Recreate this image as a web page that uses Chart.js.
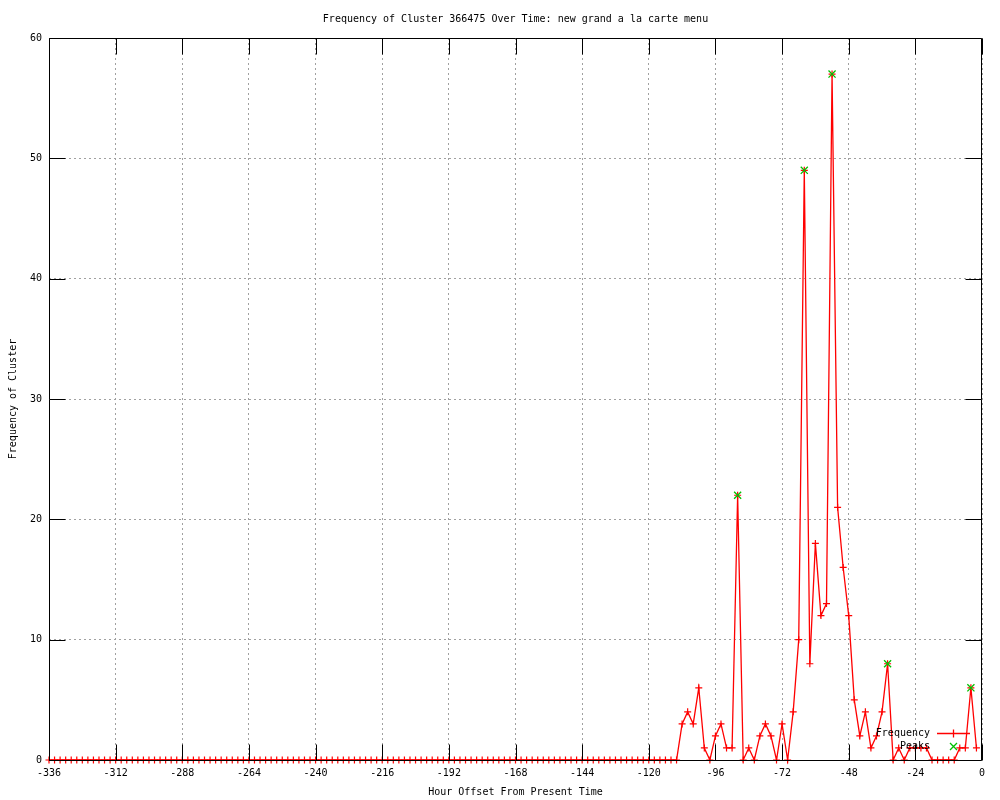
<!DOCTYPE html>
<html><head><meta charset="utf-8">
<script src="https://cdn.jsdelivr.net/npm/chart.js@4/dist/chart.umd.min.js"></script>
<style>html,body{margin:0;padding:0;background:#fff;}#wrap{width:1000px;height:800px;}</style>
</head><body><div id="wrap"><canvas id="c" width="1000" height="800"></canvas></div>
<script>
const chartTitle = 'Frequency of Cluster 366475 Over Time: new grand a la carte menu';
const xTitle = 'Hour Offset From Present Time';
const yTitle = 'Frequency of Cluster';
const seriesNames = ['Frequency', 'Peaks'];

const hours = [
-336,-334,-332,-330,-328,-326,-324,-322,-320,-318,-316,-314,-312,-310,-308,-306,-304,-302,-300,-298,
-296,-294,-292,-290,-288,-286,-284,-282,-280,-278,-276,-274,-272,-270,-268,-266,-264,-262,-260,-258,
-256,-254,-252,-250,-248,-246,-244,-242,-240,-238,-236,-234,-232,-230,-228,-226,-224,-222,-220,-218,
-216,-214,-212,-210,-208,-206,-204,-202,-200,-198,-196,-194,-192,-190,-188,-186,-184,-182,-180,-178,
-176,-174,-172,-170,-168,-166,-164,-162,-160,-158,-156,-154,-152,-150,-148,-146,-144,-142,-140,-138,
-136,-134,-132,-130,-128,-126,-124,-122,-120,-118,-116,-114,-112,-110,-108,-106,-104,-102,-100,-98,
-96,-94,-92,-90,-88,-86,-84,-82,-80,-78,-76,-74,-72,-70,-68,-66,-64,-62,-60,-58,
-56,-54,-52,-50,-48,-46,-44,-42,-40,-38,-36,-34,-32,-30,-28,-26,-24,-22,-20,-18,
-16,-14,-12,-10,-8,-6,-4,-2];

const frequency = [
0,0,0,0,0,0,0,0,0,0,0,0,0,0,0,0,0,0,0,0,
0,0,0,0,0,0,0,0,0,0,0,0,0,0,0,0,0,0,0,0,
0,0,0,0,0,0,0,0,0,0,0,0,0,0,0,0,0,0,0,0,
0,0,0,0,0,0,0,0,0,0,0,0,0,0,0,0,0,0,0,0,
0,0,0,0,0,0,0,0,0,0,0,0,0,0,0,0,0,0,0,0,
0,0,0,0,0,0,0,0,0,0,0,0,0,0,3,4,3,6,1,0,
2,3,1,1,22,0,1,0,2,3,2,0,3,0,4,10,49,8,18,12,
13,57,21,16,12,5,2,4,1,2,4,8,0,1,0,1,1,1,1,0,
0,0,0,0,1,1,6,1];

const peakHours = [-88, -64, -54, -34, -4];
const peakValues = [22, 49, 57, 8, 6];

const xTicks = [-336,-312,-288,-264,-240,-216,-192,-168,-144,-120,-96,-72,-48,-24,0];
const yTicks = [0,10,20,30,40,50,60];

const FONT = {family: "'DejaVu Sans Mono', 'Liberation Mono', monospace", size: 10};
const RED = '#ff0000', GREEN = '#00c000';

const freqData = hours.map((h, i) => ({x: h, y: frequency[i]}));
const peakData = peakHours.map((h, i) => ({x: h, y: peakValues[i]}));

const gnuFrame = {
  id: 'gnuFrame',
  afterDatasetsDraw(chart) {
    const {ctx, chartArea: a, scales: {x, y}} = chart;
    ctx.save();
    ctx.strokeStyle = '#000000';
    ctx.lineWidth = 1;
    ctx.setLineDash([]);
    const L = Math.round(a.left) + 0.5, R = Math.round(a.right) - 0.5;
    const T = Math.round(a.top) + 0.5, B = Math.round(a.bottom) + 0.5;
    ctx.beginPath();
    ctx.moveTo(L, T); ctx.lineTo(R, T); ctx.lineTo(R, B); ctx.lineTo(L, B); ctx.closePath();
    const TL = 16;
    x.ticks.forEach(t => {
      const px = Math.round(x.getPixelForValue(t.value)) + 0.5;
      ctx.moveTo(px, B); ctx.lineTo(px, B - TL);
      ctx.moveTo(px, T); ctx.lineTo(px, T + TL);
    });
    y.ticks.forEach(t => {
      const py = Math.round(y.getPixelForValue(t.value)) + 0.5;
      ctx.moveTo(L, py); ctx.lineTo(L + TL, py);
      ctx.moveTo(R, py); ctx.lineTo(R - TL, py);
    });
    ctx.stroke();

    // title
    ctx.fillStyle = '#000000';
    ctx.font = "10px 'DejaVu Sans Mono', monospace";
    ctx.textAlign = 'center';
    ctx.textBaseline = 'middle';
    ctx.fillText(chartTitle, (a.left + a.right) / 2, 19);

    // legend (key)
    const kx = 930, ky1 = 733, ky2 = 746;
    ctx.textAlign = 'right';
    ctx.fillText(seriesNames[0], kx, ky1);
    ctx.fillText(seriesNames[1], kx, ky2);
    ctx.lineWidth = 1.3;
    ctx.strokeStyle = RED;
    ctx.beginPath();
    ctx.moveTo(937, ky1 + 0.5); ctx.lineTo(970, ky1 + 0.5);
    ctx.moveTo(953.5, ky1 - 3.5); ctx.lineTo(953.5, ky1 + 4.5);
    ctx.stroke();
    ctx.strokeStyle = GREEN;
    ctx.beginPath();
    ctx.moveTo(950, ky2 - 3); ctx.lineTo(957, ky2 + 4);
    ctx.moveTo(957, ky2 - 3); ctx.lineTo(950, ky2 + 4);
    ctx.stroke();
    ctx.restore();
  }
};

new Chart(document.getElementById('c'), {
  type: 'line',
  data: {
    datasets: [
      {
        label: seriesNames[1], data: peakData, showLine: false,
        pointStyle: 'crossRot', pointRadius: 5, pointHoverRadius: 5,
        pointBorderColor: GREEN, pointBackgroundColor: GREEN, pointBorderWidth: 1.3,
        borderColor: GREEN, clip: false, order: 0
      },
      {
        label: seriesNames[0], data: freqData,
        borderColor: RED, borderWidth: 1.3, tension: 0, fill: false,
        pointStyle: 'cross', pointRadius: 3.5, pointHoverRadius: 3.5,
        pointBorderColor: RED, pointBackgroundColor: RED, pointBorderWidth: 1.2,
        clip: false, order: 1
      }
    ]
  },
  options: {
    responsive: false, animation: false, devicePixelRatio: 1,
    layout: {padding: {top: 38, right: 18, left: 0, bottom: 0}},
    plugins: {legend: {display: false}, title: {display: false}, tooltip: {enabled: false}},
    scales: {
      x: {
        type: 'linear', min: -336, max: 0,
        afterBuildTicks: s => { s.ticks = xTicks.map(v => ({value: v})); },
        afterFit: s => { s.height = 40; },
        ticks: {font: FONT, color: '#000', padding: 7, maxRotation: 0, autoSkip: false,
                callback: v => String(v)},
        grid: {color: '#a0a0a0', lineWidth: 1, drawTicks: false},
        border: {display: false, dash: [2, 3]},
        title: {display: true, text: xTitle, font: FONT, color: '#000', padding: {top: 0, bottom: 2}}
      },
      y: {
        min: 0, max: 60,
        afterBuildTicks: s => { s.ticks = yTicks.map(v => ({value: v})); },
        afterFit: s => { s.width = 49; },
        ticks: {font: FONT, color: '#000', padding: 7, callback: v => String(v)},
        grid: {color: '#a0a0a0', lineWidth: 1, drawTicks: false},
        border: {display: false, dash: [2, 3]},
        title: {display: true, text: yTitle, font: FONT, color: '#000', padding: {top: 7, bottom: 0}}
      }
    }
  },
  plugins: [gnuFrame]
});
</script></body></html>
